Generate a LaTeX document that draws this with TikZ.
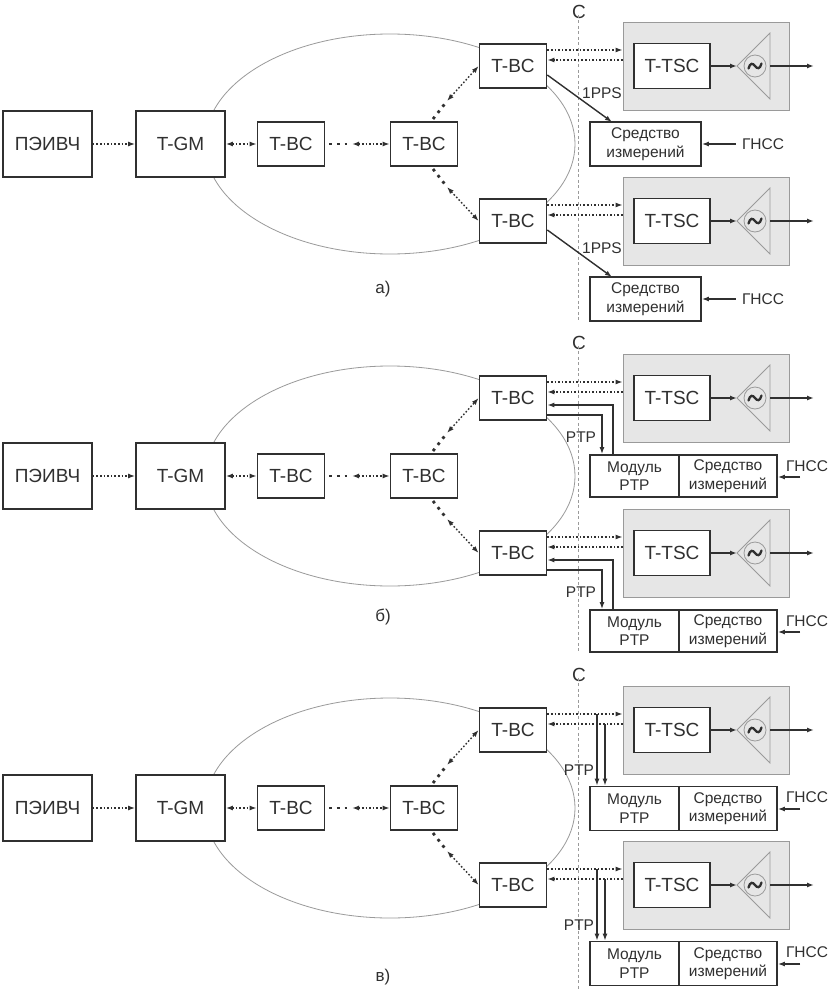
\documentclass[tikz,border=0pt]{standalone}
\usepackage{fontspec}
\setmainfont{Liberation Sans}
\usetikzlibrary{arrows.meta,calc}
\definecolor{ink}{HTML}{303030}
\definecolor{lgray}{HTML}{9A9A9A}
\definecolor{boxfill}{HTML}{E6E6E6}
\tikzset{
 >={Latex[length=7pt,width=5pt]},
 blk/.style={draw=ink,line width=1.7pt,fill=white,text=ink,inner sep=0pt,font=\fontsize{19}{19}\selectfont},
 bigblk/.style={blk,minimum width=89pt,minimum height=66pt},
 bcblk/.style={blk,minimum width=67pt,minimum height=44pt},
 tscblk/.style={blk,minimum width=76pt,minimum height=45pt},
 meas/.style={blk,font=\fontsize{15.5}{18.5}\selectfont,align=center},
 lbl/.style={text=ink,font=\fontsize{15.5}{15.5}\selectfont,inner sep=0pt},
 dotl/.style={draw=ink,line width=1.4pt,dash pattern=on 1.6pt off 2pt},
 bigdots/.style={draw=ink,line width=2.8pt,dash pattern=on 2.8pt off 5pt},
 sol/.style={draw=ink,line width=1.4pt},
 graybox/.style={draw=lgray,fill=boxfill,line width=0.8pt,minimum width=166pt,minimum height=88pt,inner sep=0pt},
 osc/.style={circle,draw=lgray,line width=0.8pt,minimum size=22pt,inner sep=0pt},
 tri/.style={draw=lgray,line width=0.8pt},
 wave/.style={draw=ink,line width=2.3pt,line cap=round},
 cut/.style={draw=lgray,line width=0.8pt,dash pattern=on 3pt off 2.5pt},
 ring/.style={draw=lgray,line width=0.8pt},
 cutlbl/.style={text=ink,font=\fontsize{19}{19}\selectfont,inner sep=0pt},
 plbl/.style={text=ink,font=\fontsize{17}{17}\selectfont,inner sep=0pt}
}
\newcommand\leftpart[1]{%
 \draw[ring] (390,144) ellipse [x radius=185, y radius=110];
 \node[bigblk] (#1pe) at (47.5,144) {ПЭИВЧ};
 \node[bigblk] (#1gm) at (180.5,144) {T-GM};
 \node[bcblk] (#1b1) at (291,144) {T-BC};
 \node[bcblk] (#1b2) at (424,144) {T-BC};
 \node[bcblk] (#1bt) at (513,66) {T-BC};
 \node[bcblk] (#1bb) at (513,221) {T-BC};
 \draw[dotl,->] (#1pe) -- (#1gm);
 \draw[dotl,<->] (#1gm) -- (#1b1);
 \coordinate (#1ms) at (329,144);
 \coordinate (#1mid) at (352,144);
 \draw[bigdots] (#1ms) -- (#1mid);
 \draw[dotl,<->] (#1mid) -- (#1b2);
 \coordinate (#1us) at (433,119);
 \coordinate (#1um) at (447,101);
 \draw[bigdots] (#1us) -- (#1um);
 \draw[dotl,<->] (#1um) -- (#1bt.west);
 \coordinate (#1ls) at (433,169);
 \coordinate (#1lm) at (447,187);
 \draw[bigdots] (#1ls) -- (#1lm);
 \draw[dotl,<->] (#1lm) -- (#1bb.west);
}
\newcommand\tscpart[2]{%
 \node[graybox] (#1g) at (706,66) {};
 \node[tscblk] (#1t) at (672,66) {T-TSC};
 \coordinate (#1ap) at (737,66);
 \coordinate (#1bs) at (770,66);
 \coordinate (#1out) at (814,66);
 \draw[tri] (#1ap) -- (770,33) -- (770,99) -- cycle;
 \node[osc] (#1c) at (755,66) {};
 \draw[wave] ($(#1c)+(-6.5,2.5)$) .. controls ($(#1c)+(-5,-3.5)$) and ($(#1c)+(-2,-3)$) .. (#1c.center)
   .. controls ($(#1c)+(2,3)$) and ($(#1c)+(5,3.5)$) .. ($(#1c)+(6.5,-2.5)$);
 \draw[sol,->] (#1t) -- (#1ap);
 \draw[sol,->] (#1bs) -- (#1out);
 \draw[dotl,->] ([yshift=16pt]#2.east) -- ([yshift=16pt]#2.east -| #1g.west);
 \draw[dotl,->] ([yshift=6pt]#2.east -| #1g.west) -- ([yshift=6pt]#2.east);
}
\newcommand\ppspart[2]{%
 \node[meas,minimum width=111pt,minimum height=44pt] (#1s) at (645.5,144) {Средство\\измерений};
 \coordinate (#1st) at (612,122);
 \draw[sol,->] ([yshift=-9pt]#2.east) -- (#1st);
 \node[lbl] at (602,93) {1PPS};
 \node[lbl] (#1gn) at (763,144) {ГНСС};
 \draw[sol,->] ([xshift=-6pt]#1gn.west) -- (#1s.east);
}
\newcommand\ptpb[2]{%
 \node[meas,minimum width=89pt,minimum height=42pt] (#1m) at (634.5,144) {Модуль\\PTP};
 \node[meas,minimum width=98pt,minimum height=42pt] (#1s) at (728,144) {Средство\\измерений};
 \coordinate (#1x1) at (613,0);
 \coordinate (#1x2) at (602,0);
 \draw[sol,->] (#1m.north -| #1x1) |- ([yshift=-7pt]#2.east);
 \draw[sol,->] ([yshift=-17pt]#2.east) -| (#1m.north -| #1x2);
 \node[lbl] at (581,105) {PTP};
 \node[lbl] (#1gn) at (807,134) {ГНСС};
 \coordinate (#1ge) at (800,145);
 \draw[sol,->] (#1ge) -- (#1ge -| #1s.east);
}
\newcommand\ptpc[2]{%
 \node[meas,minimum width=89pt,minimum height=44pt] (#1m) at (634.5,144.5) {Модуль\\PTP};
 \node[meas,minimum width=98pt,minimum height=44pt] (#1s) at (728,144.5) {Средство\\измерений};
 \coordinate (#1x1) at (597,0);
 \coordinate (#1x2) at (605,0);
 \draw[sol,->] ([yshift=16pt]#2.east -| #1x1) -- (#1m.north -| #1x1);
 \draw[sol,->] ([yshift=6pt]#2.east -| #1x2) -- (#1m.north -| #1x2);
 \node[lbl] at (579,106) {PTP};
 \node[lbl] (#1gn) at (807,133) {ГНСС};
 \coordinate (#1ge) at (800,145);
 \draw[sol,->] (#1ge) -- (#1ge -| #1s.east);
}
\newcommand\panel[2]{%
 \leftpart{#1}
 \begin{scope}\tscpart{#1u}{#1bt}#2{#1u}{#1bt}\end{scope}
 \begin{scope}[shift={(0,155)}]\tscpart{#1l}{#1bb}#2{#1l}{#1bb}\end{scope}
}
\begin{document}
\begin{tikzpicture}[x=1pt,y=-1pt]
\useasboundingbox (0,0) rectangle (830,990);
\fill[white] (0,0) rectangle (830,990);
% cut line C
\node[cutlbl] (c1) at (579,12) {C};
\coordinate (c1e) at (578,320);
\draw[cut] (c1.south -| c1e) ++(0,-4) -- (c1e);
\node[cutlbl] (c2) at (579,343) {C};
\coordinate (c2e) at (578,652);
\draw[cut] (c2.south -| c2e) ++(0,-4) -- (c2e);
\node[cutlbl] (c3) at (579,675) {C};
\coordinate (c3e) at (578,990);
\draw[cut] (c3.south -| c3e) ++(0,-4) -- (c3e);
\begin{scope}\panel{a}{\ppspart}\end{scope}
\begin{scope}[shift={(0,332)}]\panel{b}{\ptpb}\end{scope}
\begin{scope}[shift={(0,664)}]\panel{c}{\ptpc}\end{scope}
\node[plbl] (la) at (383,289) {а)};
\node[plbl] (lb) at (383,617) {б)};
\node[plbl] (lc) at (383,977) {в)};
\end{tikzpicture}
\end{document}
